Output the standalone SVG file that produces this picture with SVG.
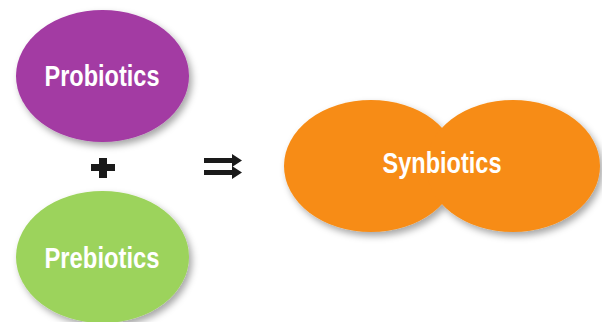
<svg xmlns="http://www.w3.org/2000/svg" width="602" height="322" viewBox="0 0 602 322">
<defs>
<filter id="sh" x="-20%" y="-20%" width="140%" height="150%">
<feDropShadow dx="3" dy="4" stdDeviation="3.5" flood-color="#000" flood-opacity="0.35"/>
</filter>
</defs>
<style>
.lbl{font-family:"Liberation Sans Narrow","Arial Narrow","Liberation Sans",sans-serif;font-weight:bold;font-size:29px;fill:#fff;text-anchor:middle}
.sym{fill:#1a1a1a}
</style>
<rect width="602" height="322" fill="#fff"/>
<g id="probiotics">
<ellipse cx="102.5" cy="76" rx="86.5" ry="66" fill="#A33AA3" filter="url(#sh)"/>
<text class="lbl" x="102" y="86" textLength="115" lengthAdjust="spacingAndGlyphs">Probiotics</text>
</g>
<g id="prebiotics">
<ellipse cx="102.5" cy="257" rx="86.5" ry="66" fill="#9CD35B" filter="url(#sh)"/>
<text class="lbl" x="102" y="268" textLength="115" lengthAdjust="spacingAndGlyphs">Prebiotics</text>
</g>
<g id="synbiotics">
<g filter="url(#sh)" fill="#F78C15">
<ellipse cx="371" cy="166" rx="87" ry="66"/>
<ellipse cx="513" cy="166" rx="87" ry="66"/>
</g>
<text class="lbl" x="442" y="173" textLength="119" lengthAdjust="spacingAndGlyphs">Synbiotics</text>
</g>
<g id="connectors">
<path class="sym" d="M99 158h8v6h8v7h-8v7h-8v-7h-8v-7h8z"/>
<path class="sym" d="M204 158h28v-4l10 6.5-10 6.5v-4h-28z"/>
<path class="sym" d="M204 170h28v-4l10 6.5-10 6.5v-4h-28z"/>
</g>
</svg>
